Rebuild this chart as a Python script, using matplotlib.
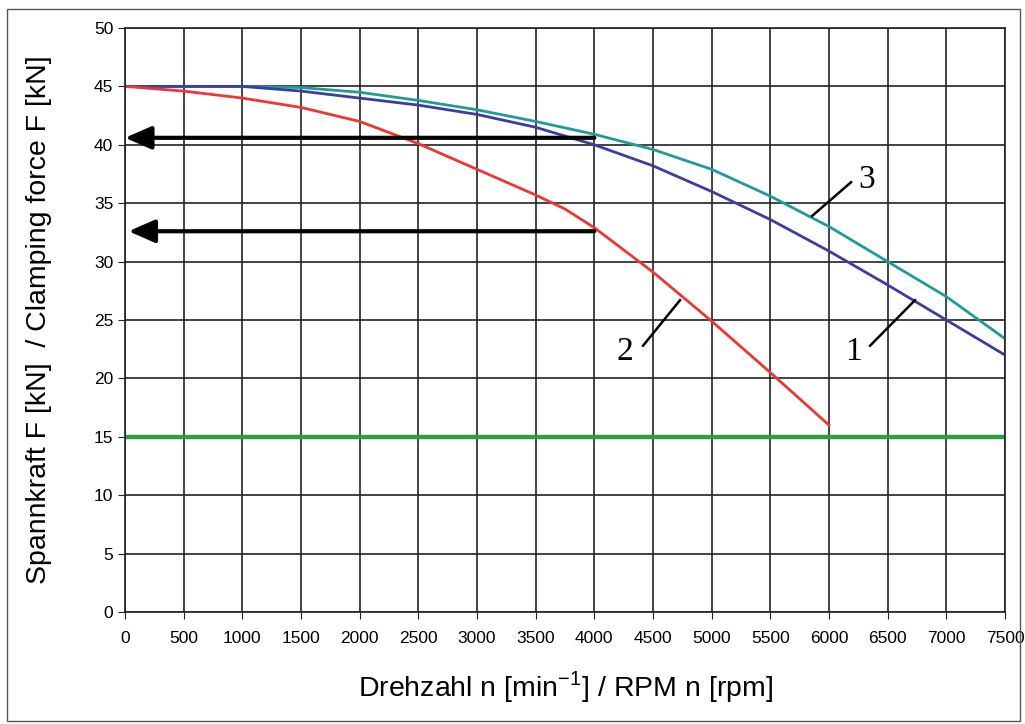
import matplotlib
matplotlib.use("Agg")
import matplotlib.pyplot as plt
from matplotlib.patches import Rectangle

# --- data ---
rpm = [0, 500, 1000, 1500, 2000, 2500, 3000, 3500, 4000, 4500, 5000, 5500, 6000, 6500, 7000, 7500]
force_1 = [45, 45.0, 45.0, 44.6, 44.0, 43.4, 42.6, 41.5, 40.0, 38.2, 36.0, 33.6, 30.9, 28.0, 25.0, 22.0]
force_3 = [45, 45.0, 45.0, 44.9, 44.5, 43.8, 43.0, 42.0, 40.9, 39.6, 37.9, 35.6, 33.0, 30.0, 27.0, 23.4]
rpm_2 = [0, 500, 1000, 1500, 2000, 2500, 3000, 3500, 3750, 4000, 4500, 5000, 5500, 6000]
force_2 = [45, 44.6, 44.0, 43.2, 42.0, 40.1, 37.9, 35.7, 34.5, 32.9, 29.1, 24.9, 20.5, 16.0]
min_force = 15
arrow_levels = [40.6, 32.6]
arrow_rpm = 4000
curve_labels = ["1", "2", "3"]

plt.rcParams['font.family'] = ['Liberation Sans', 'DejaVu Sans']

fig = plt.figure(figsize=(10.25, 7.24), dpi=100)
ax = fig.add_axes([0.122, 0.1547, 0.8585, 0.8066])

ax.plot(rpm, force_3, color="#1e9c9c", lw=2)
ax.plot(rpm, force_1, color="#3d3d9e", lw=2)
ax.plot(rpm_2, force_2, color="#f03535", lw=2)
ax.axhline(min_force, color="#2e9e3e", lw=3.2)

# arrows from the curves back to the force axis
for lvl, x_end in zip(arrow_levels, [0, 30]):
    ax.annotate("", xy=(x_end, lvl), xytext=(arrow_rpm, lvl),
                arrowprops=dict(arrowstyle="-|>,head_length=1.6,head_width=0.7",
                                color="black", lw=3, shrinkA=0, shrinkB=0))

# curve numbers with leader lines
labels = {
    "1": ((6205, 22.3), (6350, 22.8), (6733, 26.7)),
    "2": ((4261, 22.3), (4415, 22.8), (4730, 26.7)),
    "3": ((6324, 37.0), (6188, 36.8), (5855, 33.9)),
}
for name in curve_labels:
    (tx, ty), (x0, y0), (x1, y1) = labels[name]
    ax.plot([x0, x1], [y0, y1], color="black", lw=1.8)
    ax.text(tx, ty, name, fontsize=24, family="Liberation Serif",
            ha="center", va="center")

ax.set_xlim(0, 7500)
ax.set_ylim(0, 50)
ax.set_xticks(range(0, 7501, 500))
ax.set_yticks(range(0, 51, 5))
ax.grid(True, color="#222222", lw=1.2)
ax.set_axisbelow(True)
ax.tick_params(axis="both", labelsize=12.5, direction="out", length=5, color="#222222")
ax.tick_params(axis="x", pad=9)
for s in ax.spines.values():
    s.set_color("#222222")
    s.set_linewidth(1.2)

ax.set_xlabel("Drehzahl n [min$^{\\mathregular{-1}}$] / RPM n [rpm]", fontsize=20.5, labelpad=16)
ax.set_ylabel("Spannkraft F [kN]  / Clamping force F [kN]", fontsize=20.5, labelpad=30)

fig.patches.append(Rectangle((0.007, 0.004), 0.988, 0.984, transform=fig.transFigure,
                             fill=False, edgecolor="#555555", lw=1))

fig.savefig("out.png", dpi=100)
